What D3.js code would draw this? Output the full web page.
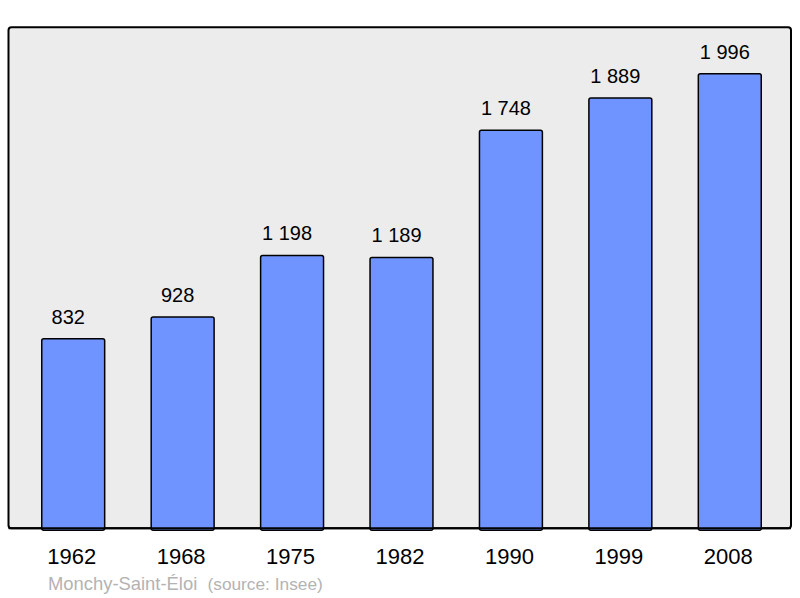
<!DOCTYPE html>
<html>
<head>
<meta charset="utf-8">
<script src="https://cdn.jsdelivr.net/npm/d3@7"></script>
<style>
  body { margin: 0; background: #fff; }
  text { font-family: "Liberation Sans", Arial, sans-serif; }
</style>
</head>
<body>
<svg id="chart" width="800" height="598"></svg>
<script>
const years = ['1962', '1968', '1975', '1982', '1990', '1999', '2008'];
const population = [832, 928, 1198, 1189, 1748, 1889, 1996];
const commune = 'Monchy-Saint-Éloi';
const source = '(source: Insee)';

const svg = d3.select('#chart');
const panel = { left: 8.5, top: 27.2, right: 791, bottom: 528.3 };

// background frame
svg.append('rect')
  .attr('x', panel.left)
  .attr('y', panel.top)
  .attr('width', panel.right - panel.left)
  .attr('height', panel.bottom - panel.top)
  .attr('rx', 3)
  .style('fill', '#ececec')
  .style('stroke', '#000')
  .style('stroke-width', 2);

const x = d3.scaleBand()
  .domain(years)
  .range([18.5, 784.5])
  .paddingInner(0.425)
  .paddingOuter(0.2125);

const y = d3.scaleLinear()
  .domain([0, 2200])
  .range([panel.bottom, panel.top]);

const fmt = v => d3.format(',')(v).replace(/,/g, ' ');

svg.append('g').selectAll('rect')
  .data(population)
  .join('rect')
  .attr('x', (d, i) => x(years[i]))
  .attr('y', d => y(d))
  .attr('width', x.bandwidth())
  .attr('height', d => y(0) - y(d) + 2)
  .attr('rx', 2)
  .style('fill', '#7094ff')
  .style('stroke', '#000')
  .style('stroke-width', 1.5);

// value labels above bars (sit slightly left of the bar centre)
svg.append('g').selectAll('text')
  .data(population)
  .join('text')
  .attr('x', (d, i) => x(years[i]) + x.bandwidth() / 2 - 5)
  .attr('y', d => y(d) - 15)
  .attr('text-anchor', 'middle')
  .style('font-size', '20px')
  .style('fill', '#000')
  .text(fmt);

// redraw bottom edge of the frame over the bars
svg.append('line')
  .attr('x1', panel.left)
  .attr('x2', panel.right)
  .attr('y1', panel.bottom)
  .attr('y2', panel.bottom)
  .style('stroke', '#000')
  .style('stroke-width', 2);

// year labels
svg.append('g').selectAll('text')
  .data(years)
  .join('text')
  .attr('x', d => x(d) + x.bandwidth() / 2 - 1.5)
  .attr('y', 564)
  .attr('text-anchor', 'middle')
  .style('font-size', '22px')
  .style('fill', '#000')
  .text(d => d);

// footer
const footer = svg.append('g').style('fill', '#b3b3b3');
footer.append('text')
  .attr('x', 48)
  .attr('y', 590)
  .style('font-size', '18.4px')
  .text(commune);
footer.append('text')
  .attr('x', 207.5)
  .attr('y', 590)
  .style('font-size', '17.3px')
  .text(source);
</script>
</body>
</html>
